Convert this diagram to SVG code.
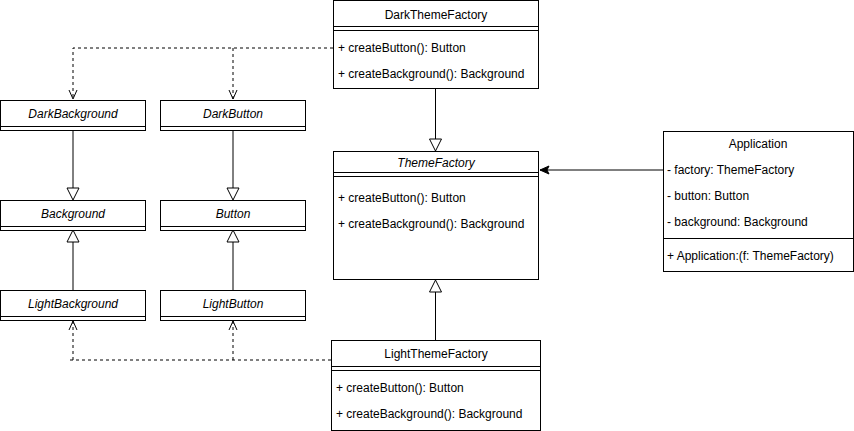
<svg xmlns="http://www.w3.org/2000/svg" width="854" height="431" viewBox="0 0 854 431">
<defs>
<style>
.box{fill:#fff;stroke:#000;stroke-width:1}
.ln{stroke:#000;stroke-width:1;fill:none}
.dash{stroke:#000;stroke-width:1;fill:none;stroke-dasharray:3 3}
.t{font-family:"Liberation Sans",Arial,Helvetica,sans-serif;font-size:12px;fill:#000}
.c{text-anchor:middle}
.i{font-style:italic}
.tri{fill:#fff;stroke:#000;stroke-width:1}
</style>
<marker id="open" markerWidth="12" markerHeight="12" refX="10" refY="5" orient="auto" markerUnits="userSpaceOnUse" viewBox="0 0 12 10">
<path d="M1,1 L10,5 L1,9" fill="none" stroke="#000" stroke-width="1"/>
</marker>
<marker id="classic" markerWidth="12" markerHeight="10" refX="10" refY="5" orient="auto" markerUnits="userSpaceOnUse" viewBox="0 0 12 10">
<path d="M1,1 L10,5 L1,9 L3,5 Z" fill="#000" stroke="#000" stroke-width="1"/>
</marker>
</defs>
<rect width="854" height="431" fill="#fff"/>

<g id="connectors">
<!-- Dark realizations -->
<path class="dash" d="M333,48 H73 V99" marker-end="url(#open)"/>
<path class="dash" d="M233,48 V99" marker-end="url(#open)"/>
<!-- Light realizations -->
<path class="dash" d="M331,360 H69"/>
<path class="dash" d="M73,360 V321" marker-end="url(#open)"/>
<path class="dash" d="M233,360 V321" marker-end="url(#open)"/>
<!-- Generalizations -->
<path class="ln" d="M73,130 V188"/>
<polygon class="tri" points="67,188 79,188 73,200"/>
<path class="ln" d="M233,130 V188"/>
<polygon class="tri" points="227,188 239,188 233,200"/>
<path class="ln" d="M73,290 V242"/>
<polygon class="tri" points="67,242 79,242 73,230"/>
<path class="ln" d="M233,290 V242"/>
<polygon class="tri" points="227,242 239,242 233,230"/>
<path class="ln" d="M435.5,88 V139"/>
<polygon class="tri" points="429.5,139 441.5,139 435.5,151"/>
<path class="ln" d="M435.5,340 V292"/>
<polygon class="tri" points="429.5,292 441.5,292 435.5,280"/>
<!-- Association -->
<path class="ln" d="M663,170 H540" marker-end="url(#classic)"/>
</g>

<g id="DarkThemeFactory">
<rect class="box" x="333.5" y="0.5" width="205" height="88"/>
<path class="ln" d="M333.5,26.5 H538.5 M333.5,30.5 H538.5"/>
<text class="t c" x="436" y="19">DarkThemeFactory</text>
<text class="t" x="338" y="52">+ createButton(): Button</text>
<text class="t" x="338" y="78">+ createBackground(): Background</text>
</g>

<g id="ThemeFactory">
<rect class="box" x="333.5" y="151.5" width="205" height="128"/>
<path class="ln" d="M333.5,172.5 H538.5 M333.5,176.5 H538.5"/>
<text class="t c i" x="436" y="167">ThemeFactory</text>
<text class="t" x="338" y="202">+ createButton(): Button</text>
<text class="t" x="338" y="228">+ createBackground(): Background</text>
</g>

<g id="LightThemeFactory">
<rect class="box" x="331.5" y="340.5" width="209" height="90"/>
<path class="ln" d="M331.5,366.5 H540.5 M331.5,370.5 H540.5"/>
<text class="t c" x="436" y="358">LightThemeFactory</text>
<text class="t" x="336" y="392">+ createButton(): Button</text>
<text class="t" x="336" y="418">+ createBackground(): Background</text>
</g>

<g id="Application">
<rect class="box" x="663.5" y="131.5" width="190" height="140"/>
<path class="ln" d="M663.5,238.5 H853.5"/>
<text class="t c" x="758" y="148">Application</text>
<text class="t" x="667" y="174">- factory: ThemeFactory</text>
<text class="t" x="667" y="200">- button: Button</text>
<text class="t" x="667" y="226">- background: Background</text>
<text class="t" x="667" y="260">+ Application:(f: ThemeFactory)</text>
</g>

<g id="DarkBackground">
<rect class="box" x="0.5" y="100.5" width="145" height="30"/>
<path class="ln" d="M0.5,126.5 H145.5"/>
<text class="t c i" x="73" y="118">DarkBackground</text>
</g>
<g id="DarkButton">
<rect class="box" x="160.5" y="100.5" width="145" height="30"/>
<path class="ln" d="M160.5,126.5 H305.5"/>
<text class="t c i" x="233" y="118">DarkButton</text>
</g>
<g id="Background">
<rect class="box" x="0.5" y="200.5" width="145" height="30"/>
<path class="ln" d="M0.5,226.5 H145.5"/>
<text class="t c i" x="73" y="218">Background</text>
</g>
<g id="Button">
<rect class="box" x="160.5" y="200.5" width="145" height="30"/>
<path class="ln" d="M160.5,226.5 H305.5"/>
<text class="t c i" x="233" y="218">Button</text>
</g>
<g id="LightBackground">
<rect class="box" x="0.5" y="290.5" width="145" height="30"/>
<path class="ln" d="M0.5,316.5 H145.5"/>
<text class="t c i" x="73" y="308">LightBackground</text>
</g>
<g id="LightButton">
<rect class="box" x="160.5" y="290.5" width="145" height="30"/>
<path class="ln" d="M160.5,316.5 H305.5"/>
<text class="t c i" x="233" y="308">LightButton</text>
</g>
</svg>
